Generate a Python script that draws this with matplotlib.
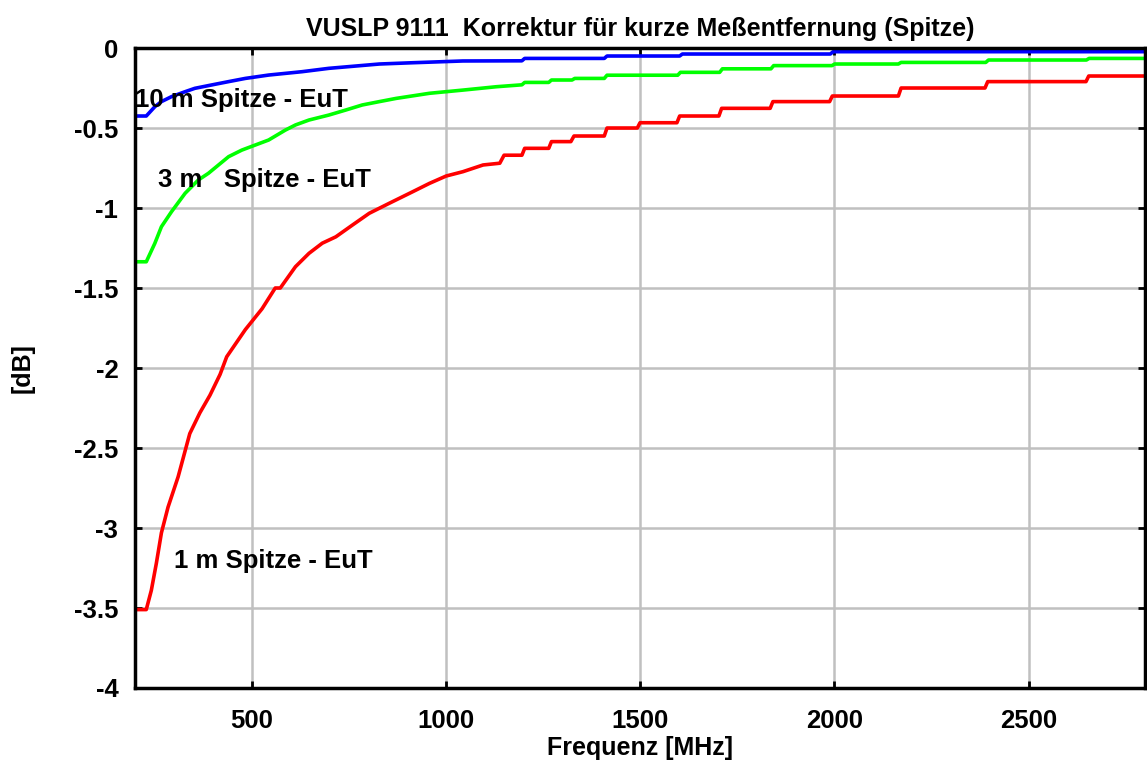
import matplotlib
matplotlib.use("Agg")
import matplotlib.pyplot as plt

plt.rcParams['font.family'] = ['Liberation Sans', 'DejaVu Sans']
plt.rcParams['font.weight'] = 'bold'

# 1 m curve (red)
f_1m = [200, 229, 242, 255, 268, 285, 311, 341, 367, 393, 419, 436, 484, 527, 561, 574,
        613, 648, 682, 717, 760, 803, 854, 915, 958, 1001, 1044, 1096, 1139, 1150, 1196,
        1203, 1265, 1272, 1322, 1330, 1408, 1415, 1493, 1500, 1595, 1602, 1703, 1710,
        1835, 1842, 1988, 1995, 2165, 2172, 2388, 2395, 2648, 2655, 2800]
v_1m = [-3.51, -3.51, -3.39, -3.22, -3.03, -2.87, -2.68, -2.41, -2.28, -2.17, -2.04, -1.93,
        -1.76, -1.63, -1.50, -1.50, -1.367, -1.283, -1.22, -1.18, -1.106, -1.033, -0.971,
        -0.898, -0.846, -0.80, -0.773, -0.731, -0.72, -0.67, -0.67, -0.627, -0.627,
        -0.585, -0.585, -0.55, -0.55, -0.50, -0.50, -0.467, -0.467, -0.425, -0.425,
        -0.377, -0.377, -0.335, -0.335, -0.30, -0.30, -0.25, -0.25, -0.21, -0.21,
        -0.175, -0.175]

# 3 m curve (green)
f_3m = [200, 229, 251, 268, 294, 329, 363, 389, 415, 441, 475, 510, 544, 587, 613, 648,
        699, 742, 785, 829, 872, 958, 1044, 1130, 1196, 1203, 1265, 1272, 1325, 1332,
        1408, 1415, 1597, 1604, 1705, 1712, 1837, 1844, 1994, 2001, 2165, 2172, 2390,
        2397, 2649, 2656, 2800]
v_3m = [-1.336, -1.336, -1.221, -1.117, -1.023, -0.908, -0.825, -0.783, -0.731, -0.679,
        -0.638, -0.606, -0.575, -0.513, -0.481, -0.45, -0.419, -0.388, -0.356, -0.335,
        -0.315, -0.283, -0.263, -0.242, -0.23, -0.215, -0.215, -0.20, -0.20, -0.19,
        -0.19, -0.17, -0.17, -0.152, -0.152, -0.13, -0.13, -0.11, -0.11, -0.10, -0.10,
        -0.09, -0.09, -0.075, -0.075, -0.065, -0.065]

# 10 m curve (blue)
f_10m = [200, 229, 251, 268, 294, 329, 354, 397, 441, 484, 544, 630, 699, 829, 915, 1044,
         1196, 1203, 1408, 1415, 1602, 1609, 1990, 1997, 2800]
v_10m = [-0.425, -0.425, -0.367, -0.335, -0.304, -0.273, -0.252, -0.231, -0.21, -0.19,
         -0.169, -0.148, -0.127, -0.10, -0.092, -0.081, -0.08, -0.065, -0.065, -0.05,
         -0.05, -0.0375, -0.0375, -0.023, -0.023]

x_ticks = [500, 1000, 1500, 2000, 2500]
x_tick_labels = ['500', '1000', '1500', '2000', '2500']
y_ticks = [0, -0.5, -1, -1.5, -2, -2.5, -3, -3.5, -4]
y_tick_labels = ['0', '-0.5', '-1', '-1.5', '-2', '-2.5', '-3', '-3.5', '-4']

fig = plt.figure(figsize=(11.47, 7.67), dpi=100)
ax = fig.add_axes([0.1177, 0.103, 0.8806, 0.8344])

ax.plot(f_1m, v_1m, color='#ff0000', lw=2.6, solid_joinstyle='round', zorder=3)
ax.plot(f_3m, v_3m, color='#00ff00', lw=2.6, solid_joinstyle='round', zorder=3)
ax.plot(f_10m, v_10m, color='#0000ff', lw=2.6, solid_joinstyle='round', zorder=3)

ax.set_xlim(200, 2800)
ax.set_ylim(-4, 0)
ax.set_xticks(x_ticks)
ax.set_xticklabels(x_tick_labels)
ax.set_yticks(y_ticks)
ax.set_yticklabels(y_tick_labels)
ax.grid(True, color='#c0c0c0', lw=1.8, zorder=0)
ax.set_axisbelow(True)
for s in ax.spines.values():
    s.set_linewidth(2.5)
    s.set_zorder(4)
ax.tick_params(direction='in', length=5, width=2, top=True, right=True,
               labelsize=18.5)
ax.tick_params(axis='y', pad=12)
ax.tick_params(axis='x', pad=15)
for lab in ax.get_xticklabels() + ax.get_yticklabels():
    lab.set_fontweight('bold')

ax.set_title('VUSLP 9111  Korrektur für kurze Meßentfernung (Spitze)',
             fontsize=18, fontweight='bold', pad=9)
ax.set_xlabel('Frequenz [MHz]', fontsize=18, fontweight='bold', labelpad=2)
ax.set_ylabel('[dB]', fontsize=18, fontweight='bold', labelpad=28)

ax.text(199, -0.367, '10 m Spitze - EuT', fontsize=18.5, fontweight='bold',
        va='baseline', ha='left', zorder=5)
ax.text(259, -0.871, '3 m   Spitze - EuT', fontsize=18.5, fontweight='bold',
        va='baseline', ha='left', zorder=5)
ax.text(301, -3.252, '1 m Spitze - EuT', fontsize=18.5, fontweight='bold',
        va='baseline', ha='left', zorder=5)

fig.savefig('out.png', dpi=100)
